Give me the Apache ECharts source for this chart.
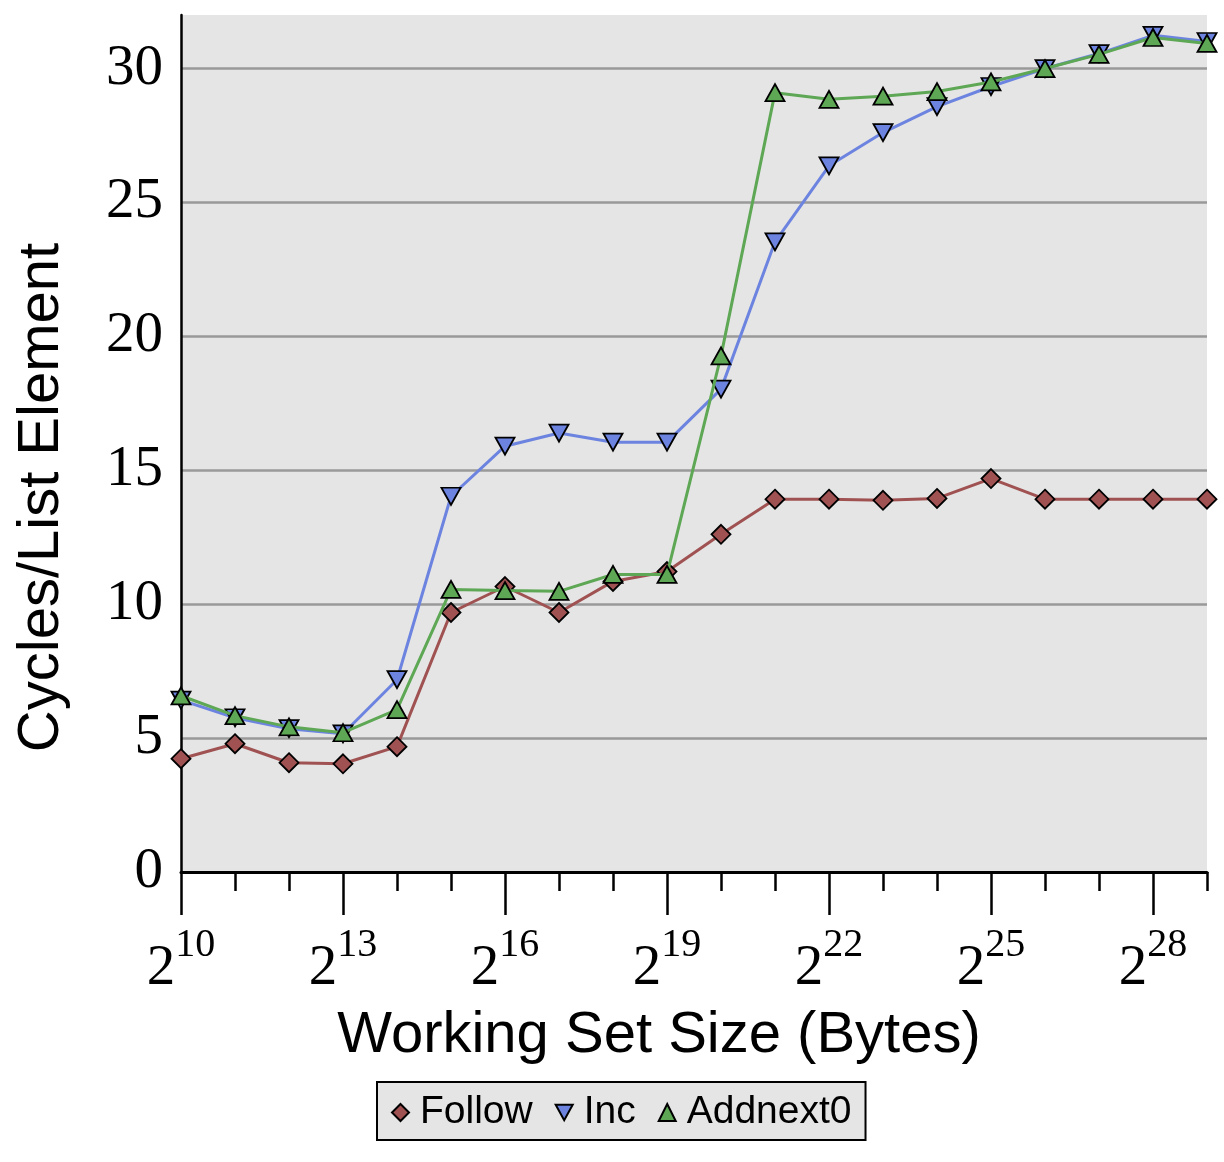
<!DOCTYPE html>
<html><head><meta charset="utf-8">
<script src="https://cdn.jsdelivr.net/npm/echarts@6/dist/echarts.min.js"></script>
<style>html,body{margin:0;padding:0;background:#fff}#c{width:1224px;height:1162px}</style>
</head><body><div id="c"></div>
<script>
// x categories: exponent of 2 (working set size in bytes = 2^n)
const exponents = ['10','11','12','13','14','15','16','17','18','19','20','21','22','23','24','25','26','27','28','29'];
const follow   = [4.23,4.79,4.08,4.04,4.68,9.69,10.66,9.69,10.85,11.22,12.61,13.92,13.92,13.88,13.95,14.69,13.92,13.92,13.92,13.92];
const inc      = [6.42,5.76,5.35,5.16,7.18,14.03,15.90,16.39,16.05,16.05,18.03,23.53,26.37,27.61,28.58,29.33,30.00,30.56,31.24,31.01];
const addnext0 = [6.58,5.84,5.42,5.20,6.06,10.55,10.51,10.48,11.11,11.11,19.27,29.10,28.85,28.97,29.14,29.50,30.00,30.53,31.16,30.94];
const seriesNames = ['Follow','Inc','Addnext0'];

const chart = echarts.init(document.getElementById('c'), null, {renderer:'canvas'});
const blk = '#000';
const isMajor = (i) => i % 3 === 0;
chart.setOption({
  animation: false,
  grid: {left:181, right:17, top:15, bottom:290, show:true, backgroundColor:'#e5e5e5', borderWidth:0},
  xAxis: [
    {
      type:'category', data: exponents, boundaryGap:false,
      axisLine:{show:true, lineStyle:{color:blk, width:3}},
      axisTick:{show:true, interval:0, length:19, lineStyle:{color:blk, width:2.5}},
      axisLabel:{show:false}, splitLine:{show:false},
      name:'Working Set Size (Bytes)', nameLocation:'middle', nameGap:135,
      nameTextStyle:{fontFamily:'Liberation Sans', fontSize:58, color:blk, padding:[0,70,0,0]}
    },
    {
      type:'category', data: exponents, boundaryGap:false, position:'bottom',
      axisLine:{show:false},
      axisTick:{show:true, interval:(i)=>isMajor(i), length:43, lineStyle:{color:blk, width:2.5}},
      splitLine:{show:false},
      axisLabel:{
        interval:(i)=>isMajor(i), margin:53,
        formatter:(v)=>'{b|2}{s|'+v+'}',
        rich:{
          b:{fontFamily:'Liberation Serif', fontSize:57, lineHeight:73, verticalAlign:'bottom', color:blk},
          s:{fontFamily:'Liberation Serif', fontSize:40, lineHeight:73, verticalAlign:'top', color:blk}
        }
      }
    }
  ],
  yAxis: {
    type:'value', min:0, max:32, interval:5,
    axisLine:{show:true, lineStyle:{color:blk, width:2.5}},
    axisTick:{show:false},
    splitLine:{show:true, showMaxLine:false, lineStyle:{color:'#999', width:2.5}},
    axisLabel:{fontFamily:'Liberation Serif', fontSize:57, color:blk, margin:18, showMaxLabel:false,
      formatter:(v)=> (v % 5 === 0 ? String(v) : '')},
    name:'Cycles/List Element', nameLocation:'middle', nameGap:110, nameRotate:90,
    nameTextStyle:{fontFamily:'Liberation Sans', fontSize:58, color:blk, padding:[0,108,0,0]}
  },
  legend: {
    left:377, top:1082, orient:'horizontal',
    backgroundColor:'#e5e5e5', borderColor:blk, borderWidth:2, borderRadius:0,
    padding:[11,14,8,14], itemGap:22, itemWidth:17, itemHeight:17, symbolRotate:0,
    textStyle:{fontFamily:'Liberation Sans', fontSize:39, color:blk, padding:[0,0,0,6]},
    data:[
      {name:seriesNames[0], icon:'diamond'},
      {name:seriesNames[1], icon:'path://M0,0L20,0L10,18Z'},
      {name:seriesNames[2], icon:'triangle'}
    ]
  },
  series: [
    {name:seriesNames[0], type:'line', data:follow, symbol:'diamond', symbolSize:19,
     lineStyle:{color:'#a05252', width:3}, itemStyle:{color:'#a05252', borderColor:blk, borderWidth:1.8},
     emphasis:{disabled:true}, z:2},
    {name:seriesNames[1], type:'line', data:inc, symbol:'triangle', symbolRotate:180, symbolSize:[19,17],
     lineStyle:{color:'#6c84e0', width:3}, itemStyle:{color:'#6c84e0', borderColor:blk, borderWidth:1.8},
     emphasis:{disabled:true}, z:3},
    {name:seriesNames[2], type:'line', data:addnext0, symbol:'triangle', symbolSize:[19,17],
     lineStyle:{color:'#5ea855', width:3}, itemStyle:{color:'#5ea855', borderColor:blk, borderWidth:1.8},
     emphasis:{disabled:true}, z:4}
  ]
});
</script>
</body></html>
